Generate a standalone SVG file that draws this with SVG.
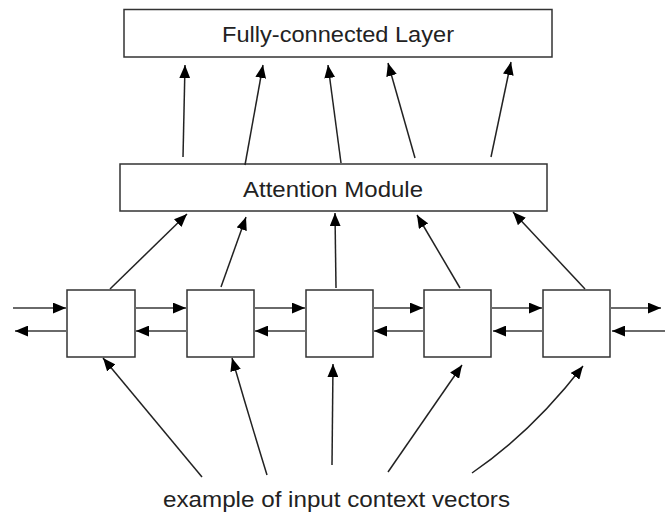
<svg xmlns="http://www.w3.org/2000/svg" width="665" height="516" viewBox="0 0 665 516">
  <defs>
    <style>
      .box { fill: #ffffff; stroke: #333333; stroke-width: 1.5; }
      .lbl { font-family: "Liberation Sans", Arial, sans-serif; font-size: 22px; fill: #222222; text-anchor: middle; }
      .conn { fill: none; stroke: #222222; stroke-width: 1.5; marker-end: url(#ah); }
      .hconn { fill: none; stroke: #6a6a6a; stroke-width: 2.2; marker-end: url(#ah); }
    </style>
    <marker id="ah" markerUnits="userSpaceOnUse" viewBox="0 0 12 10" refX="12" refY="5" markerWidth="13" markerHeight="11" orient="auto">
      <path d="M0,0 L12,5 L0,10 z" fill="#000000"/>
    </marker>
  </defs>
  <rect width="665" height="516" fill="#ffffff"/>

  <g id="fc-layer">
    <rect class="box" x="124" y="9.5" width="428" height="47.5"/>
    <text class="lbl" x="338" y="42" textLength="232" lengthAdjust="spacingAndGlyphs">Fully-connected Layer</text>
  </g>
  <g id="attention-module">
    <rect class="box" x="120" y="164" width="427" height="47"/>
    <text class="lbl" x="333" y="197" textLength="180" lengthAdjust="spacingAndGlyphs">Attention Module</text>
  </g>
  <g id="cell1"><rect class="box" x="67" y="290" width="68" height="67"/></g>
  <g id="cell2"><rect class="box" x="187" y="290" width="67" height="67"/></g>
  <g id="cell3"><rect class="box" x="306" y="290" width="67" height="67"/></g>
  <g id="cell4"><rect class="box" x="424" y="290" width="67" height="67"/></g>
  <g id="cell5"><rect class="box" x="543" y="290" width="67" height="67"/></g>
  <g id="input-label">
    <text class="lbl" x="336.5" y="507" textLength="347" lengthAdjust="spacingAndGlyphs">example of input context vectors</text>
  </g>

  <g id="connectors">
    <!-- attention to FC -->
    <line class="conn" x1="183" y1="157" x2="185" y2="65"/>
    <line class="conn" x1="245" y1="165" x2="263" y2="65"/>
    <line class="conn" x1="341" y1="163" x2="328" y2="65"/>
    <line class="conn" x1="415" y1="158" x2="388" y2="63"/>
    <line class="conn" x1="491" y1="157" x2="511" y2="62"/>
    <!-- cells to attention -->
    <line class="conn" x1="110" y1="289" x2="187" y2="214"/>
    <line class="conn" x1="221" y1="287" x2="246" y2="217"/>
    <line class="conn" x1="336" y1="288" x2="335" y2="213"/>
    <line class="conn" x1="460" y1="288" x2="417" y2="215"/>
    <line class="conn" x1="585" y1="289" x2="513" y2="212"/>
    <!-- inputs to cells -->
    <line class="conn" x1="202" y1="477" x2="103" y2="358"/>
    <path class="conn" d="M267,475 Q250,420 232,358"/>
    <line class="conn" x1="332" y1="465" x2="333" y2="364"/>
    <line class="conn" x1="388" y1="472" x2="462" y2="365"/>
    <path class="conn" d="M472,473 Q532,432 583,366"/>
    <!-- forward (top) horizontal -->
    <line class="hconn" x1="13" y1="308" x2="66" y2="308"/>
    <line class="hconn" x1="135" y1="308" x2="186" y2="308"/>
    <line class="hconn" x1="254" y1="308" x2="305" y2="308"/>
    <line class="hconn" x1="373" y1="308" x2="423" y2="308"/>
    <line class="hconn" x1="491" y1="308" x2="542" y2="308"/>
    <line class="hconn" x1="610" y1="308" x2="661" y2="308"/>
    <!-- backward (bottom) horizontal -->
    <line class="hconn" x1="66" y1="331" x2="15" y2="331"/>
    <line class="hconn" x1="187" y1="331" x2="136" y2="331"/>
    <line class="hconn" x1="306" y1="331" x2="255" y2="331"/>
    <line class="hconn" x1="424" y1="331" x2="374" y2="331"/>
    <line class="hconn" x1="543" y1="331" x2="493" y2="331"/>
    <line class="hconn" x1="665" y1="331" x2="612" y2="331"/>
  </g>
</svg>
